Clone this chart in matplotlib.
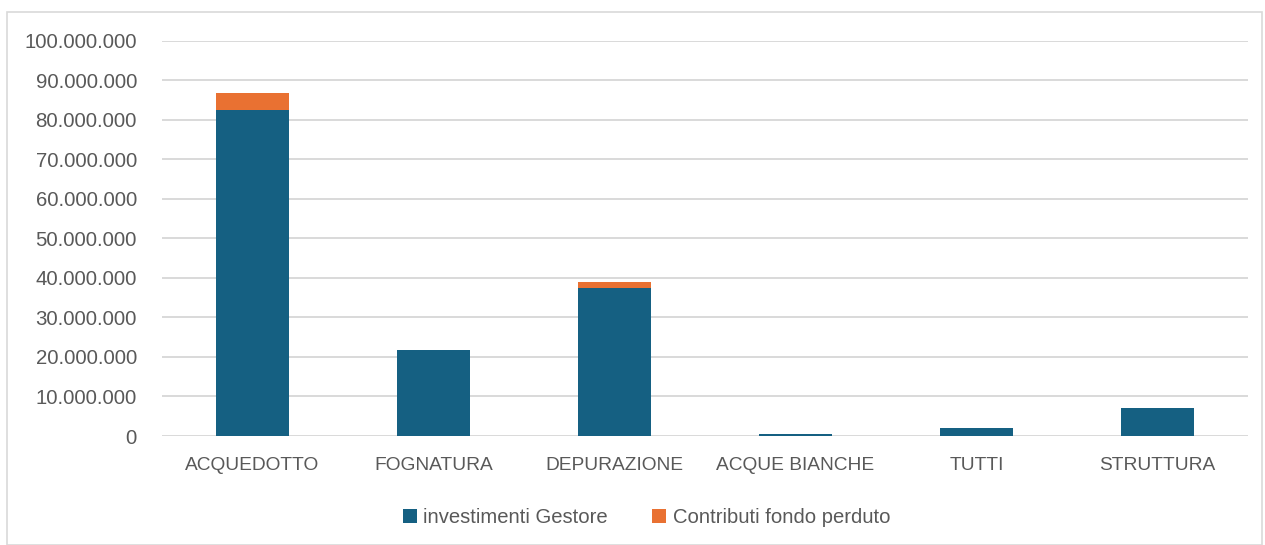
import matplotlib.pyplot as plt
from matplotlib.patches import Rectangle
from matplotlib.ticker import FuncFormatter
import numpy as np

# Dati
categorie = ['ACQUEDOTTO', 'FOGNATURA', 'DEPURAZIONE', 'ACQUE BIANCHE', 'TUTTI', 'STRUTTURA']
investimenti_gestore = [82600000, 21800000, 37400000, 600000, 2000000, 7200000]
contributi_fondo_perduto = [4200000, 0, 1500000, 0, 0, 0]

blu = '#156082'
arancio = '#E97132'
grigio_testo = '#595959'

plt.rcParams['font.family'] = ['Liberation Sans', 'DejaVu Sans']

fig = plt.figure(figsize=(12.65, 5.45), dpi=100)
ax = fig.add_axes([0.128, 0.2, 0.8586, 0.7248])

x = np.arange(len(categorie))
ax.bar(x, investimenti_gestore, width=0.4, color=blu, label='investimenti Gestore', zorder=3)
ax.bar(x, contributi_fondo_perduto, width=0.4, bottom=investimenti_gestore,
       color=arancio, label='Contributi fondo perduto', zorder=3)

ax.set_ylim(0, 100000000)
ax.set_xlim(-0.5, len(categorie) - 0.5)
ax.set_yticks(np.arange(0, 100000001, 10000000))
ax.yaxis.set_major_formatter(FuncFormatter(lambda v, p: f'{int(v):,}'.replace(',', '.')))
ax.set_xticks(x)
ax.set_xticklabels(categorie)
ax.grid(axis='y', color='#D9D9D9', linewidth=1.4, zorder=0)
for s in ax.spines.values():
    s.set_visible(False)
ax.tick_params(axis='both', length=0, colors=grigio_testo)
ax.tick_params(axis='y', pad=18, labelsize=14.7)
ax.tick_params(axis='x', pad=15, labelsize=13.8)

fig.legend(loc='center', bbox_to_anchor=(0.511, 0.05), ncol=2, frameon=False,
           fontsize=14.6, labelcolor=grigio_testo, handlelength=0.7, handleheight=0.7,
           handletextpad=0.3, columnspacing=2.2)

# Cornice esterna
fig.patches.append(Rectangle((7 / 1265, 0), 1255 / 1265, 1 - 12 / 545,
                             transform=fig.transFigure, fill=False,
                             edgecolor='#D9D9D9', linewidth=1.2))

fig.savefig('out.png', dpi=100)
